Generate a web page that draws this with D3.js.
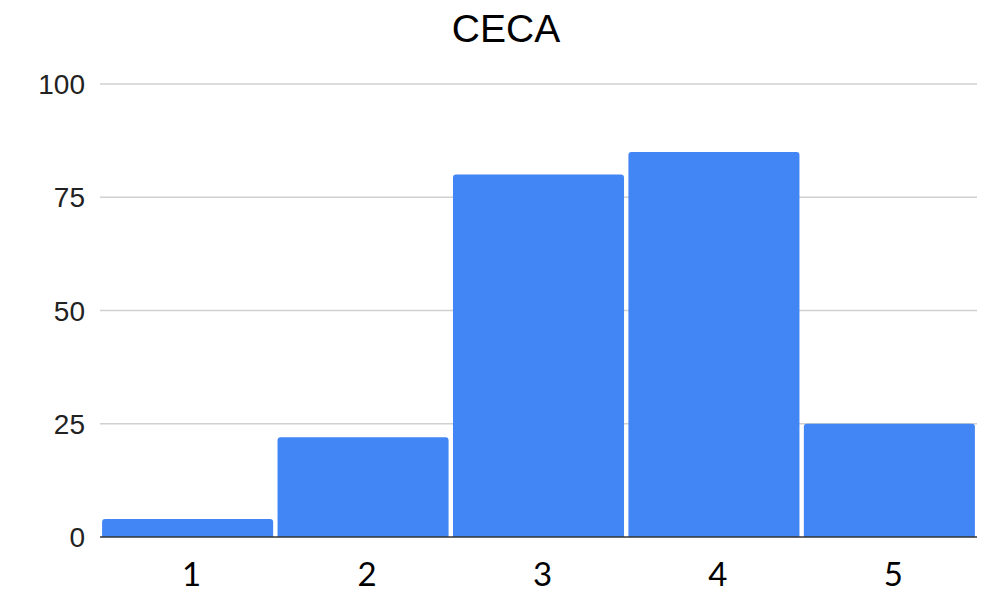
<!DOCTYPE html>
<html>
<head>
<meta charset="utf-8">
<script src="https://cdn.jsdelivr.net/npm/d3@7"></script>
<style>
  body { margin: 0; background: #fff; }
  svg { display: block; }
</style>
</head>
<body>
<div class="chart"></div>
<script>
// data
var categories = ["1", "2", "3", "4", "5"];
var values = [4, 22, 80, 85, 25];
var yTicks = [0, 25, 50, 75, 100];

var width = 987, height = 593;
var plotLeft = 100, plotRight = 977, plotTop = 84, plotBottom = 537;

var svg = d3.select(".chart").append("svg")
    .attr("width", width)
    .attr("height", height);

var xScale = d3.scaleBand()
    .domain(categories)
    .range([plotLeft, plotRight])
    .paddingInner(0.025)
    .paddingOuter(0.012);

var yScale = d3.scaleLinear()
    .domain([0, 100])
    .range([plotBottom, plotTop]);

// title
svg.append("text")
    .text("CECA")
    .attr("x", 506)
    .attr("y", 42)
    .attr("text-anchor", "middle")
    .attr("font-family", "Liberation Sans, Arial, sans-serif")
    .attr("font-size", 39)
    .attr("fill", "#000");

// gridlines
svg.append("g").selectAll("line")
    .data(yTicks.filter(function(d) { return d > 0; }))
    .enter().append("line")
    .attr("x1", plotLeft)
    .attr("x2", plotRight)
    .attr("y1", function(d) { return yScale(d); })
    .attr("y2", function(d) { return yScale(d); })
    .attr("stroke", "#d0d0d0")
    .attr("stroke-width", 1.5);

// y tick labels
svg.append("g").selectAll("text")
    .data(yTicks)
    .enter().append("text")
    .text(function(d) { return d; })
    .attr("x", 85)
    .attr("y", function(d) { return yScale(d); })
    .attr("dy", "0.36em")
    .attr("text-anchor", "end")
    .attr("font-family", "Liberation Sans, Arial, sans-serif")
    .attr("font-size", 28)
    .attr("fill", "#222");

// bars with slightly rounded top corners
var r = 3;
svg.append("g").selectAll("path")
    .data(values)
    .enter().append("path")
    .attr("d", function(d, i) {
        var x0 = xScale(categories[i]), w = xScale.bandwidth();
        var y0 = yScale(d), y1 = yScale(0);
        return "M" + x0 + "," + y1 +
            "V" + (y0 + r) +
            "Q" + x0 + "," + y0 + " " + (x0 + r) + "," + y0 +
            "H" + (x0 + w - r) +
            "Q" + (x0 + w) + "," + y0 + " " + (x0 + w) + "," + (y0 + r) +
            "V" + y1 + "Z";
    })
    .attr("fill", "#4285f4");

// baseline
svg.append("line")
    .attr("x1", plotLeft)
    .attr("x2", plotRight)
    .attr("y1", yScale(0))
    .attr("y2", yScale(0))
    .attr("stroke", "#333")
    .attr("stroke-width", 1.5);

// x labels
svg.append("g").selectAll("text")
    .data(categories)
    .enter().append("text")
    .text(function(d) { return d; })
    .attr("x", function(d) { return xScale(d) + xScale.bandwidth() / 2 + 4; })
    .attr("y", 586)
    .attr("text-anchor", "middle")
    .attr("font-family", "Lato, Carlito, Calibri, sans-serif")
    .attr("font-size", 33)
    .attr("fill", "#000");
</script>
</body>
</html>
